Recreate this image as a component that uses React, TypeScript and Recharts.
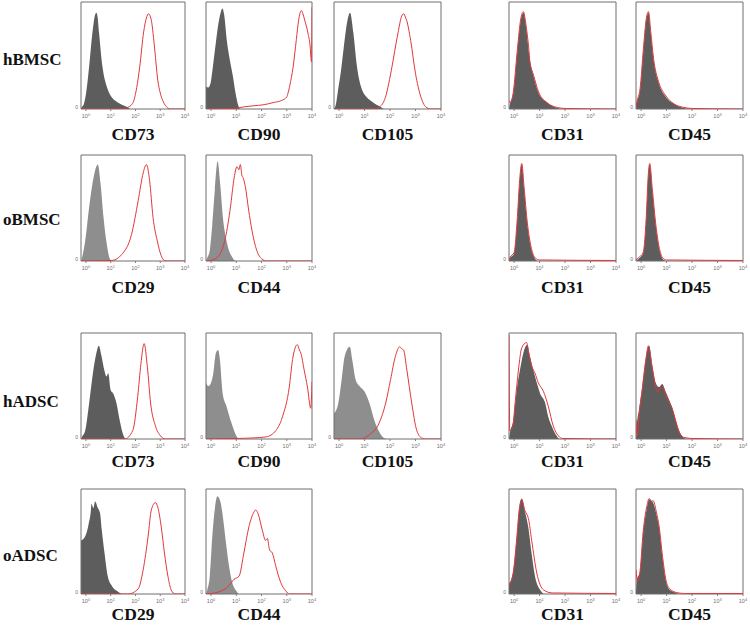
import { ComposedChart, Area, Line, XAxis, YAxis, ReferenceArea } from "recharts";

type Pt = [number, number];

// x = log10 fluorescence, y = % of panel height
const rowNames = ["hBMSC", "oBMSC", "hADSC", "oADSC"];
const decades = [0, 1, 2, 3, 4];

// hBMSC
const hBMSC_CD73_iso: Pt[] = [[-0.2, 0], [-0.16, 2], [-0.08, 5], [0, 14], [0.13, 40], [0.26, 71], [0.37, 88], [0.42, 90], [0.47, 86], [0.53, 71], [0.67, 39], [0.8, 24], [0.94, 15], [1.23, 7], [1.45, 4], [1.64, 2], [1.8, 0], [4, 0]];
const hBMSC_CD73_stain: Pt[] = [[-0.2, 0], [1.5, 0], [1.64, 1], [1.88, 5], [2.05, 20], [2.17, 39], [2.33, 72], [2.44, 85], [2.53, 89], [2.57, 88], [2.64, 83], [2.78, 55], [2.9, 27], [3.0, 15], [3.1, 8], [3.3, 1], [3.4, 0], [4, 0]];
const hBMSC_CD90_iso: Pt[] = [[-0.2, 21], [-0.11, 20], [-0.01, 25], [0.07, 39], [0.18, 60], [0.28, 78], [0.38, 90], [0.45, 94], [0.52, 88], [0.62, 65], [0.75, 45], [0.87, 30], [0.97, 15], [1.07, 4], [1.15, 0], [4, 0]];
const hBMSC_CD90_stain: Pt[] = [[-0.2, 0], [0.87, 0.5], [1.3, 2], [1.67, 3], [2.1, 4], [2.46, 6], [2.8, 8], [2.99, 11], [3.12, 22], [3.25, 39], [3.38, 65], [3.47, 83], [3.58, 92], [3.64, 89], [3.71, 83], [3.84, 71], [3.92, 60], [3.98, 44], [4, 95]];
const hBMSC_CD105_iso: Pt[] = [[-0.2, 0], [-0.12, 5], [-0.04, 18], [0.07, 35], [0.17, 55], [0.33, 83], [0.43, 90], [0.56, 71], [0.7, 40], [0.9, 18], [1.05, 12], [1.23, 8], [1.55, 3], [1.8, 0], [4, 0]];
const hBMSC_CD105_stain: Pt[] = [[-0.2, 0], [1.23, 0], [1.55, 1.5], [1.82, 11], [1.95, 24], [2.08, 40], [2.28, 67], [2.48, 88], [2.54, 89], [2.6, 86], [2.65, 83], [2.81, 64], [3.0, 33], [3.2, 12], [3.4, 2], [3.6, 0], [4, 0]];
const hBMSC_CD31_iso: Pt[] = [[-0.2, 0], [-0.16, 5], [-0.03, 15], [0.13, 55], [0.26, 83], [0.37, 90], [0.47, 77], [0.6, 49], [0.76, 31], [0.96, 15], [1.29, 6], [1.69, 1], [1.9, 0], [4, 0]];
const hBMSC_CD31_stain: Pt[] = [[-0.2, 8], [-0.14, 6], [-0.03, 16], [0.13, 56], [0.26, 84], [0.36, 91], [0.47, 78], [0.6, 50], [0.62, 44], [0.76, 32], [0.96, 16], [1.29, 6], [1.69, 1.5], [2.0, 0.5], [4, 0]];
const hBMSC_CD45_iso: Pt[] = [[-0.2, 0], [-0.17, 5], [-0.04, 18], [0.09, 55], [0.2, 83], [0.29, 90], [0.38, 71], [0.49, 46], [0.68, 25], [0.95, 12], [1.28, 5], [1.68, 1], [1.9, 0], [4, 0]];
const hBMSC_CD45_stain: Pt[] = [[-0.2, 1], [-0.17, 6], [-0.04, 19], [0.09, 56], [0.2, 84], [0.29, 91], [0.38, 72], [0.49, 47], [0.68, 26], [0.95, 13], [1.28, 5], [1.68, 1.5], [2.0, 0.5], [4, 0]];

// oBMSC
const oBMSC_CD29_iso: Pt[] = [[-0.2, 0], [-0.16, 3], [-0.03, 19], [0.13, 51], [0.31, 79], [0.48, 91], [0.59, 73], [0.71, 41], [0.84, 16], [0.97, 2], [1.1, 0], [4, 0]];
const oBMSC_CD29_stain: Pt[] = [[-0.2, 0], [1.04, 0.5], [1.44, 6], [1.84, 25], [2.11, 57], [2.31, 83], [2.44, 91], [2.57, 76], [2.71, 41], [2.88, 19], [3.04, 5], [3.17, 0.5], [3.3, 0], [4, 0]];
const oBMSC_CD44_iso: Pt[] = [[-0.2, 0], [-0.15, 3], [-0.05, 10], [0.05, 35], [0.15, 67], [0.26, 94], [0.36, 73], [0.47, 41], [0.64, 16], [0.83, 4], [0.99, 0], [4, 0]];
const oBMSC_CD44_stain: Pt[] = [[-0.2, 0], [0.05, 1], [0.31, 5], [0.57, 22], [0.77, 51], [0.9, 76], [1.03, 89], [1.1, 86], [1.16, 91], [1.22, 81], [1.28, 78], [1.36, 70], [1.49, 48], [1.62, 29], [1.81, 10], [2.01, 2], [2.2, 0], [4, 0]];
const oBMSC_CD31_iso: Pt[] = [[-0.2, 0], [-0.17, 2], [0.0, 7], [0.13, 41], [0.22, 76], [0.3, 91], [0.39, 69], [0.52, 35], [0.66, 13], [0.83, 2], [0.95, 0], [4, 0]];
const oBMSC_CD31_stain: Pt[] = [[-0.2, 1], [-0.17, 3], [0.0, 8], [0.13, 42], [0.22, 77], [0.3, 92], [0.39, 70], [0.52, 36], [0.66, 14], [0.83, 3], [1.0, 1], [4, 0.5]];
const oBMSC_CD45_iso: Pt[] = [[-0.2, 0], [-0.11, 2], [0.08, 7], [0.21, 44], [0.27, 76], [0.34, 91], [0.44, 67], [0.57, 35], [0.7, 13], [0.85, 2], [1.0, 0], [4, 0]];
const oBMSC_CD45_stain: Pt[] = [[-0.2, 1], [-0.11, 3], [0.08, 8], [0.21, 45], [0.27, 77], [0.34, 92], [0.44, 68], [0.57, 36], [0.7, 14], [0.85, 3], [1.0, 1], [4, 0.5]];

// hADSC
const hADSC_CD73_iso: Pt[] = [[-0.2, 0], [-0.16, 2], [-0.03, 8], [0.13, 34], [0.3, 65], [0.43, 82], [0.52, 88], [0.63, 78], [0.74, 65], [0.83, 59], [0.9, 62], [1.0, 46], [1.1, 43], [1.23, 34], [1.36, 18], [1.49, 5], [1.62, 0], [4, 0]];
const hADSC_CD73_stain: Pt[] = [[-0.2, 0], [1.56, 0], [1.89, 8], [2.09, 40], [2.22, 71], [2.35, 90], [2.48, 68], [2.61, 34], [2.81, 12], [3.01, 3], [3.2, 0], [4, 0]];
const hADSC_CD90_iso: Pt[] = [[-0.2, 53], [-0.11, 50], [-0.02, 52], [0.09, 62], [0.19, 81], [0.28, 84], [0.35, 75], [0.46, 43], [0.61, 31], [0.81, 15], [1.0, 3], [1.1, 0], [4, 0]];
const hADSC_CD90_stain: Pt[] = [[-0.2, 0], [1.0, 0.5], [1.66, 1], [2.18, 2], [2.57, 8], [2.83, 21], [3.1, 49], [3.23, 75], [3.42, 89], [3.5, 84], [3.56, 81], [3.69, 65], [3.82, 49], [3.95, 29], [4, 54]];
const hADSC_CD105_iso: Pt[] = [[-0.2, 24], [-0.03, 34], [0.1, 56], [0.22, 78], [0.42, 87], [0.52, 74], [0.65, 56], [0.8, 50], [0.99, 45], [1.19, 34], [1.38, 18], [1.57, 7], [1.76, 1], [1.9, 0], [4, 0]];
const hADSC_CD105_stain: Pt[] = [[-0.2, 0], [0.8, 0], [1.19, 4], [1.57, 15], [1.83, 34], [2.02, 56], [2.21, 78], [2.38, 87], [2.46, 85], [2.53, 84], [2.66, 65], [2.85, 34], [3.05, 8], [3.24, 1], [3.4, 0], [4, 0]];
const hADSC_CD31_iso: Pt[] = [[-0.2, 0], [-0.17, 5], [-0.03, 18], [0.1, 46], [0.23, 65], [0.36, 81], [0.52, 89], [0.62, 78], [0.75, 65], [0.89, 53], [1.02, 43], [1.22, 34], [1.34, 21], [1.48, 12], [1.64, 4], [1.8, 0], [4, 0]];
const hADSC_CD31_stain: Pt[] = [[-0.2, 98], [-0.17, 8], [-0.05, 12], [0.04, 34], [0.17, 65], [0.3, 86], [0.49, 91], [0.57, 82], [0.69, 69], [0.82, 62], [0.95, 53], [1.15, 45], [1.34, 31], [1.54, 12], [1.74, 3], [1.9, 0.5], [4, 0]];
const hADSC_CD45_iso: Pt[] = [[-0.2, 0], [-0.17, 12], [-0.08, 28], [0.05, 50], [0.18, 75], [0.31, 88], [0.44, 69], [0.57, 53], [0.7, 49], [0.83, 52], [0.96, 45], [1.1, 37], [1.23, 29], [1.36, 18], [1.49, 8], [1.68, 1], [1.8, 0], [4, 0]];
const hADSC_CD45_stain: Pt[] = [[-0.2, 18], [-0.15, 3], [-0.08, 22], [0.05, 48], [0.18, 74], [0.29, 88], [0.44, 67], [0.57, 50], [0.66, 44], [0.75, 48], [0.83, 50], [0.96, 42], [1.1, 35], [1.23, 28], [1.36, 17], [1.49, 7], [1.68, 1.5], [2, 0.5], [4, 0]];

// oADSC
const oADSC_CD29_iso: Pt[] = [[-0.2, 51], [-0.03, 55], [0.11, 67], [0.2, 80], [0.22, 86], [0.3, 82], [0.37, 88], [0.48, 82], [0.57, 77], [0.64, 61], [0.75, 39], [0.88, 17], [1.04, 8], [1.31, 2], [1.5, 0], [4, 0]];
const oADSC_CD29_stain: Pt[] = [[-0.2, 0], [1.71, 0], [2.11, 5], [2.31, 23], [2.51, 55], [2.64, 80], [2.8, 87], [2.91, 82], [3.04, 64], [3.17, 39], [3.31, 17], [3.44, 4], [3.6, 0], [4, 0]];
const oADSC_CD44_iso: Pt[] = [[-0.2, 0], [-0.15, 4], [-0.05, 17], [0.05, 55], [0.16, 83], [0.25, 93], [0.38, 87], [0.47, 73], [0.58, 51], [0.71, 27], [0.84, 11], [1.0, 3], [1.1, 0], [4, 0]];
const oADSC_CD44_stain: Pt[] = [[-0.2, 0], [0.31, 2], [0.71, 8], [0.91, 14], [1.11, 17], [1.3, 39], [1.5, 64], [1.7, 78], [1.77, 80], [1.87, 76], [2.03, 61], [2.16, 51], [2.23, 53], [2.32, 42], [2.43, 39], [2.56, 27], [2.76, 11], [2.96, 3], [3.1, 0], [4, 0]];
const oADSC_CD31_iso: Pt[] = [[-0.2, 10], [-0.03, 22], [0.1, 53], [0.2, 81], [0.3, 91], [0.43, 78], [0.56, 63], [0.69, 38], [0.82, 17], [1.02, 4], [1.2, 0], [4, 0]];
const oADSC_CD31_stain: Pt[] = [[-0.2, 8], [-0.03, 21], [0.1, 52], [0.2, 80], [0.3, 90], [0.43, 79], [0.5, 76], [0.56, 72], [0.69, 51], [0.89, 20], [1.15, 4], [1.5, 1], [4, 0.5]];
const oADSC_CD45_iso: Pt[] = [[-0.2, 0], [-0.17, 13], [-0.04, 22], [0.08, 58], [0.22, 81], [0.32, 90], [0.47, 87], [0.6, 76], [0.71, 63], [0.84, 35], [0.97, 13], [1.12, 4], [1.38, 1], [1.5, 0], [4, 0]];
const oADSC_CD45_stain: Pt[] = [[-0.2, 23], [-0.14, 12], [-0.04, 22], [0.08, 59], [0.22, 83], [0.32, 91], [0.4, 88], [0.47, 89], [0.6, 78], [0.71, 64], [0.84, 36], [0.97, 14], [1.12, 5], [1.38, 1.5], [1.7, 0.5], [4, 0.5]];

// layout (pixels)
const rowBoxes = [
  { top: 2, bottom: 109, nameY: 65, labelY: 140 },
  { top: 155, bottom: 261, nameY: 225, labelY: 293 },
  { top: 333, bottom: 439, nameY: 407, labelY: 467 },
  { top: 489, bottom: 594, nameY: 561, labelY: 620 },
];
const colBoxes = [[81, 185], [206, 312], [334, 441], [509, 616], [636, 743]];

const panels = [
  { row: 0, col: 0, marker: "CD73", iso: hBMSC_CD73_iso, stain: hBMSC_CD73_stain, light: false },
  { row: 0, col: 1, marker: "CD90", iso: hBMSC_CD90_iso, stain: hBMSC_CD90_stain, light: false },
  { row: 0, col: 2, marker: "CD105", iso: hBMSC_CD105_iso, stain: hBMSC_CD105_stain, light: false },
  { row: 0, col: 3, marker: "CD31", iso: hBMSC_CD31_iso, stain: hBMSC_CD31_stain, light: false },
  { row: 0, col: 4, marker: "CD45", iso: hBMSC_CD45_iso, stain: hBMSC_CD45_stain, light: false },
  { row: 1, col: 0, marker: "CD29", iso: oBMSC_CD29_iso, stain: oBMSC_CD29_stain, light: true },
  { row: 1, col: 1, marker: "CD44", iso: oBMSC_CD44_iso, stain: oBMSC_CD44_stain, light: true },
  { row: 1, col: 3, marker: "CD31", iso: oBMSC_CD31_iso, stain: oBMSC_CD31_stain, light: false },
  { row: 1, col: 4, marker: "CD45", iso: oBMSC_CD45_iso, stain: oBMSC_CD45_stain, light: false },
  { row: 2, col: 0, marker: "CD73", iso: hADSC_CD73_iso, stain: hADSC_CD73_stain, light: false },
  { row: 2, col: 1, marker: "CD90", iso: hADSC_CD90_iso, stain: hADSC_CD90_stain, light: true },
  { row: 2, col: 2, marker: "CD105", iso: hADSC_CD105_iso, stain: hADSC_CD105_stain, light: true },
  { row: 2, col: 3, marker: "CD31", iso: hADSC_CD31_iso, stain: hADSC_CD31_stain, light: false },
  { row: 2, col: 4, marker: "CD45", iso: hADSC_CD45_iso, stain: hADSC_CD45_stain, light: false },
  { row: 3, col: 0, marker: "CD29", iso: oADSC_CD29_iso, stain: oADSC_CD29_stain, light: false },
  { row: 3, col: 1, marker: "CD44", iso: oADSC_CD44_iso, stain: oADSC_CD44_stain, light: true },
  { row: 3, col: 3, marker: "CD31", iso: oADSC_CD31_iso, stain: oADSC_CD31_stain, light: false },
  { row: 3, col: 4, marker: "CD45", iso: oADSC_CD45_iso, stain: oADSC_CD45_stain, light: false },
];

const RED = "#e0383d";
const DARK = "#5d5d5d";
const LIGHT = "#8e8e8e";
const PAD_L = 12;
const PAD_T = 1;

function merge(iso: Pt[], stain: Pt[]) {
  const rows = new Map<number, { x: number; iso: number | null; stain: number | null }>();
  iso.forEach(([x, y]) => rows.set(x, { x, iso: y, stain: null }));
  stain.forEach(([x, y]) => {
    const r = rows.get(x);
    if (r) r.stain = y;
    else rows.set(x, { x, iso: null, stain: y });
  });
  return [...rows.values()].sort((a, b) => a.x - b.x);
}

function DecadeTick({ x, y, payload }: any) {
  return (
    <text x={x} y={y + 5} textAnchor="middle" fontSize={5.5} fill="#707070" fontFamily="Arial, sans-serif">
      10<tspan dy={-2.5} fontSize={4}>{payload.value}</tspan>
    </text>
  );
}

function ZeroTick({ x, y }: any) {
  return (
    <text x={x} y={y} textAnchor="end" fontSize={5} fill="#707070" fontFamily="Arial, sans-serif">
      0
    </text>
  );
}

function Histogram({ p }: { p: (typeof panels)[number] }) {
  const rb = rowBoxes[p.row];
  const [l, r] = colBoxes[p.col];
  const w = r - l;
  const h = rb.bottom - rb.top;
  return (
    <div style={{ position: "absolute", left: l - PAD_L, top: rb.top - PAD_T }}>
      <ComposedChart
        width={w + PAD_L + 6}
        height={h + PAD_T + 14}
        data={merge(p.iso, p.stain)}
        margin={{ top: PAD_T, right: 6, left: 2, bottom: 0 }}
      >
        <XAxis
          type="number"
          dataKey="x"
          domain={[-0.2, 4]}
          ticks={decades}
          tick={<DecadeTick />}
          tickSize={2}
          tickLine={{ stroke: "#808080" }}
          axisLine={false}
          height={14}
          allowDataOverflow
        />
        <YAxis
          type="number"
          domain={[0, 100]}
          ticks={[0]}
          width={10}
          tick={<ZeroTick />}
          tickSize={0}
          tickMargin={3}
          tickLine={false}
          axisLine={false}
          allowDataOverflow
        />
        <Area
          dataKey="iso"
          type="monotone"
          fill={p.light ? LIGHT : DARK}
          fillOpacity={1}
          stroke="none"
          connectNulls
          isAnimationActive={false}
        />
        <Line
          dataKey="stain"
          type="monotone"
          stroke={RED}
          strokeWidth={1}
          dot={false}
          connectNulls
          isAnimationActive={false}
        />
        <ReferenceArea x1={-0.2} x2={4} y1={0} y2={100} fill="none" stroke="#6f6f6f" strokeWidth={1} />
      </ComposedChart>
    </div>
  );
}

export default function App() {
  return (
    <div style={{ position: "absolute", left: 0, top: 0, width: 750, height: 628, background: "#fff" }}>
      {panels.map((p, i) => (
        <Histogram key={i} p={p} />
      ))}
      <svg width={750} height={628} style={{ position: "absolute", left: 0, top: 0, pointerEvents: "none" }}>
        {rowNames.map((n, i) => (
          <text key={n} x={3} y={rowBoxes[i].nameY} fontFamily="'Liberation Serif', 'Times New Roman', serif" fontWeight="bold" fontSize={17} fill="#111">
            {n}
          </text>
        ))}
        {panels.map((p, i) => {
          const [l, r] = colBoxes[p.col];
          return (
            <text
              key={i}
              x={(l + r) / 2}
              y={rowBoxes[p.row].labelY}
              textAnchor="middle"
              fontFamily="'Liberation Serif', 'Times New Roman', serif"
              fontWeight="bold"
              fontSize={17.5}
              fill="#111"
            >
              {p.marker}
            </text>
          );
        })}
      </svg>
    </div>
  );
}
